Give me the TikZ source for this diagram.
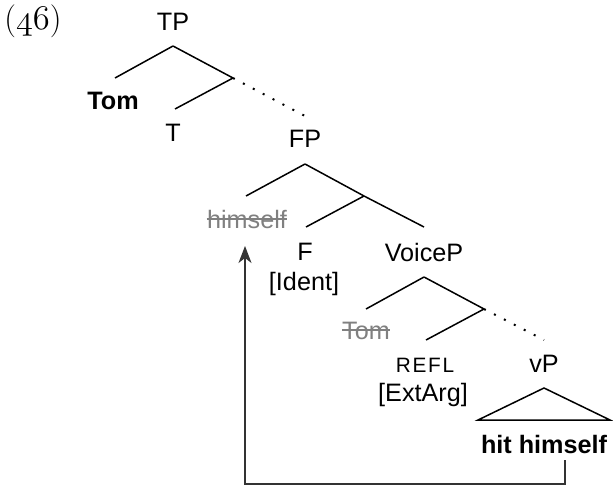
\documentclass[tikz,border=0pt]{standalone}
\usepackage{fontspec}
\setsansfont{Liberation Sans}
\usetikzlibrary{arrows.meta}
\definecolor{tracegray}{RGB}{128,128,128}
\newcommand\catfont{\fontsize{12.6}{14}\selectfont\sffamily}
\tikzset{
  cat/.style={font=\catfont, anchor=base, inner sep=0pt},
  lex/.style={cat, font=\catfont\bfseries},
  trace/.style={cat, text=tracegray},
  strike/.style={draw=tracegray, line width=0.7pt},
  feat/.style={cat, font=\fontsize{10.4}{11}\selectfont\sffamily\addfontfeature{LetterSpace=8}},
  branch/.style={line width=0.75pt},
  dotbranch/.style={line width=1pt, dash pattern=on 1pt off 4.6pt},
  movearrow/.style={-{Stealth[length=8.5pt, width=6.5pt, inset=2.5pt]}, line width=0.55pt, black!80}
}

\begin{document}
\begin{tikzpicture}[x=0.5pt, y=-0.5pt]
  \useasboundingbox (0,0) rectangle (613,486);
  \node[font=\fontsize{16.5}{18}\selectfont, anchor=base west, inner sep=0pt] (ex) at (4,30) {(\ensuremath{\mathnormal{46}})};

  \node[cat] (tp) at (173,31) {TP};
  \node[lex] (tom) at (113,110) {Tom};
  \node[cat] (t) at (173,141) {T};
  \node[cat] (fp) at (305,148) {FP};
  \node[trace] (hs) at (247,228) {himself};
  \node[cat] (f) at (305,260) {F};
  \node[cat] (ident) at (304,290) {[Ident]};
  \node[cat] (voicep) at (424,261) {VoiceP};
  \node[trace] (tomcopy) at (366,339) {Tom};
  \node[feat] (refl) at (425,372) {REFL};
  \node[cat] (extarg) at (423,401) {[ExtArg]};
  \node[cat] (vp) at (544,372) {vP};
  \node[lex] (hh) at (544,453) {hit himself};

  \coordinate (tp-a) at (173,46);  \coordinate (tp-l) at (115,78);
  \coordinate (tp-m) at (233,78);  \coordinate (t-a) at (175,109);
  \coordinate (fp-b) at (305,116);
  \coordinate (fp-a) at (305,164); \coordinate (fp-l) at (246,196);
  \coordinate (fp-m) at (364,196); \coordinate (f-a) at (306,227);
  \coordinate (vo-b) at (424,227);
  \coordinate (vo-a) at (424,277); \coordinate (vo-l) at (366,309);
  \coordinate (vo-m) at (484,309); \coordinate (refl-a) at (426,340);
  \coordinate (vp-b) at (544,340);
  \coordinate (tri-a) at (544,388); \coordinate (tri-l) at (478,420);
  \coordinate (tri-r) at (610,420);
  \coordinate (mv-s) at (565,460); \coordinate (mv-e) at (245,246);

  \draw[strike] ([yshift=4.6pt]hs.base west) -- ([yshift=4.6pt]hs.base east);
  \draw[strike] ([yshift=4.6pt]tomcopy.base west) -- ([yshift=4.6pt]tomcopy.base east);

  \draw[branch] (tp-a) -- (tp-l) (tp-a) -- (tp-m) (tp-m) -- (t-a);
  \draw[dotbranch] (tp-m) -- (fp-b);
  \draw[branch] (fp-a) -- (fp-l) (fp-a) -- (fp-m) (fp-m) -- (f-a) (fp-m) -- (vo-b);
  \draw[branch] (vo-a) -- (vo-l) (vo-a) -- (vo-m) (vo-m) -- (refl-a);
  \draw[dotbranch] (vo-m) -- (vp-b);
  \draw[branch] (tri-a) -- (tri-l) -- (tri-r) -- cycle;
  \draw[movearrow] (mv-s) -- ++(0,24) -| (mv-e);
\end{tikzpicture}
\end{document}
